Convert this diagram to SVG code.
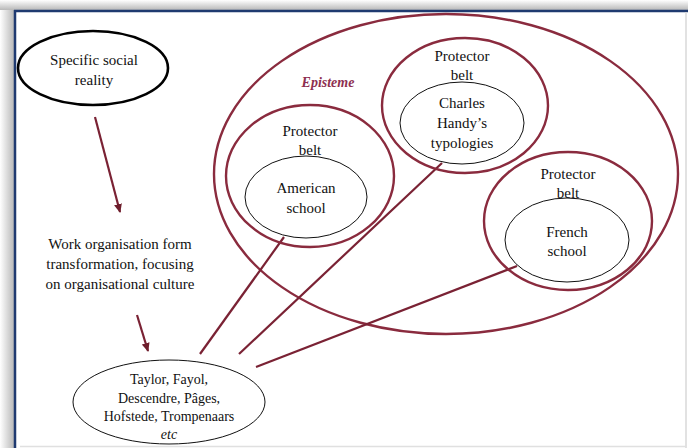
<svg xmlns="http://www.w3.org/2000/svg" width="688" height="448" viewBox="0 0 688 448">
<defs>
<linearGradient id="shL" x1="0" y1="0" x2="1" y2="0"><stop offset="0" stop-color="#ffffff"/><stop offset="1" stop-color="#b8b8b8"/></linearGradient>
<linearGradient id="shT" x1="0" y1="0" x2="0" y2="1"><stop offset="0" stop-color="#ffffff"/><stop offset="1" stop-color="#b8b8b8"/></linearGradient>
<marker id="ah" markerWidth="10" markerHeight="10" refX="8" refY="5" orient="auto" markerUnits="userSpaceOnUse"><path d="M0,1 L9,5 L0,9 Z" fill="#6e1e2c"/></marker>
<style>
text{font-family:'Liberation Serif','DejaVu Serif',serif}
.t{font-size:15px;fill:#111;text-anchor:middle}
.s{font-size:14px;fill:#111;text-anchor:middle}
.belt{fill:none;stroke:#8a2b3e;stroke-width:2.4}
.inner{fill:none;stroke:#111;stroke-width:1}
.con{stroke:#7a2234;stroke-width:2.2;fill:none}
</style>
</defs>
<rect width="688" height="448" fill="#ffffff"/>
<rect x="0" y="0" width="14" height="448" fill="url(#shL)"/>
<rect x="0" y="0" width="688" height="10" fill="url(#shT)"/>
<line x1="15" y1="10" x2="15" y2="448" stroke="#1f3a70" stroke-width="2.5"/>
<line x1="14" y1="11" x2="688" y2="11" stroke="#1f3a70" stroke-width="2.5"/>
<line x1="686" y1="12" x2="686" y2="448" stroke="#d8d8d8" stroke-width="1.5"/>
<line x1="20" y1="446.5" x2="686" y2="446.5" stroke="#e0e0e0" stroke-width="1.5"/>

<g id="episteme">
<ellipse cx="446" cy="174" rx="232" ry="160" class="belt"/>
<text x="328" y="87" font-size="14" font-style="italic" font-weight="600" fill="#8e3050" text-anchor="middle">Episteme</text>
</g>

<g id="connectors">
<line x1="95" y1="117" x2="120" y2="212" class="con" marker-end="url(#ah)"/>
<line x1="137" y1="315" x2="148" y2="351" class="con" marker-end="url(#ah)"/>
<line x1="284" y1="237" x2="200" y2="354" class="con"/>
<line x1="442" y1="163" x2="239" y2="354" class="con"/>
<line x1="517" y1="266" x2="256" y2="367" class="con"/>
</g>

<g id="social-reality">
<ellipse cx="93" cy="68" rx="75" ry="37" fill="none" stroke="#000" stroke-width="2.6"/>
<text x="94" y="65" class="t">Specific social</text>
<text x="94" y="85" class="t">reality</text>
</g>

<g id="work-organisation">
<text x="120" y="249" class="t">Work organisation form</text>
<text x="120" y="269" class="t">transformation, focusing</text>
<text x="120" y="289" class="t">on organisational culture</text>
</g>

<g id="authors">
<ellipse cx="169" cy="402" rx="96" ry="42" class="inner"/>
<text x="169" y="384" class="s">Taylor, Fayol,</text>
<text x="169" y="403" class="s">Descendre,  Pâges,</text>
<text x="169" y="421" class="s">Hofstede,  Trompenaars</text>
<text x="169" y="439" class="s" font-style="italic">etc</text>
</g>

<g id="american">
<ellipse cx="310" cy="176" rx="84" ry="71" class="belt"/>
<text x="310" y="136" class="t">Protector</text>
<text x="310" y="155" class="t">belt</text>
<ellipse cx="306" cy="197" rx="61" ry="41" class="inner"/>
<text x="306" y="193" class="t">American</text>
<text x="306" y="213" class="t">school</text>
</g>

<g id="charles-handy">
<ellipse cx="465" cy="105.5" rx="83" ry="67.5" class="belt"/>
<text x="462" y="61" class="t">Protector</text>
<text x="462" y="80" class="t">belt</text>
<ellipse cx="462" cy="123" rx="62" ry="41" class="inner"/>
<text x="462" y="108" class="t">Charles</text>
<text x="462" y="128" class="t">Handy’s</text>
<text x="462" y="148" class="t">typologies</text>
</g>

<g id="french">
<ellipse cx="568" cy="221" rx="84" ry="69" class="belt"/>
<text x="568" y="179" class="t">Protector</text>
<text x="568" y="198" class="t">belt</text>
<ellipse cx="567" cy="240" rx="62" ry="42" class="inner"/>
<text x="567" y="237" class="t">French</text>
<text x="567" y="256" class="t">school</text>
</g>
</svg>
